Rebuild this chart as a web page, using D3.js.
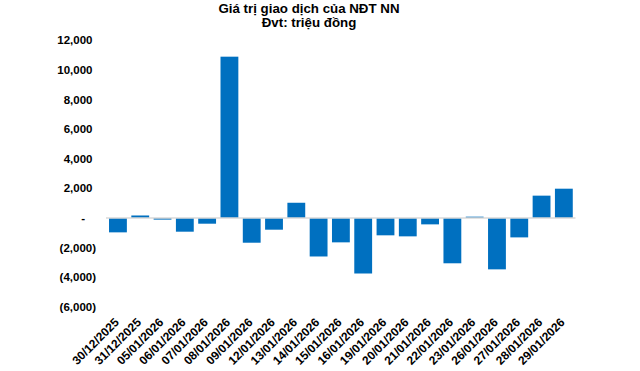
<!DOCTYPE html>
<html><head><meta charset="utf-8">
<script src="https://cdn.jsdelivr.net/npm/d3@7"></script>
<style>body{margin:0;background:#fff}svg{display:block}text{font-family:"Liberation Sans",Arial,sans-serif}</style>
</head><body>
<script>
const categories = ["30/12/2025","31/12/2025","05/01/2026","06/01/2026","07/01/2026","08/01/2026","09/01/2026","12/01/2026","13/01/2026","14/01/2026","15/01/2026","16/01/2026","19/01/2026","20/01/2026","21/01/2026","22/01/2026","23/01/2026","26/01/2026","27/01/2026","28/01/2026","29/01/2026"];
const values = [-970,170,-110,-925,-385,10900,-1670,-790,1030,-2600,-1645,-3750,-1170,-1240,-430,-3060,90,-3470,-1310,1510,1980];
const yTicks = [-6000,-4000,-2000,0,2000,4000,6000,8000,10000,12000];
const titleLines = ["Giá trị giao dịch của NĐT NN","Đvt: triệu đồng"];

const W=640,H=371;
const svg=d3.select("body").append("svg").attr("width",W).attr("height",H);
const x=d3.scaleBand().domain(categories).range([106.8,575]).paddingInner(0.2).paddingOuter(0.1);
const y=d3.scaleLinear().domain([-6000,12000]).range([306.8,40.4]);

svg.append("g").selectAll("text").data(titleLines).join("text")
  .attr("x",309).attr("y",(d,i)=>13+i*14).attr("text-anchor","middle")
  .attr("font-size","13.3px").attr("font-weight","bold").attr("fill","#000").text(d=>d);

const fmt=d3.format(",");
const yAxis=svg.append("g");
yAxis.selectAll("text").data(yTicks).join("text")
  .attr("x",d=>d<0?96:(d===0?85:92.5)).attr("y",d=>y(d)).attr("dy","0.35em")
  .attr("text-anchor","end").attr("font-size","11.5px").attr("font-weight","bold").attr("fill","#000")
  .text(d=>d<0?"("+fmt(-d)+")":(d===0?"-":fmt(d)));

svg.append("g").selectAll("rect").data(values).join("rect")
  .attr("x",(d,i)=>x(categories[i])).attr("width",x.bandwidth())
  .attr("y",d=>y(Math.max(0,d))).attr("height",d=>Math.abs(y(d)-y(0)))
  .attr("fill","#0070C0");

svg.append("line").attr("x1",106).attr("x2",575.5).attr("y1",y(0)).attr("y2",y(0))
  .attr("stroke","#d9d9d9").attr("stroke-width",1.5);

svg.append("g").selectAll("text").data(categories).join("text")
  .attr("transform",d=>`translate(${x(d)+x.bandwidth()/2-1.3},${320}) rotate(-45)`)
  .attr("text-anchor","end").attr("dy","0.35em")
  .attr("font-size","12px").attr("font-weight","bold").attr("fill","#000").text(d=>d);
</script>
</body></html>
